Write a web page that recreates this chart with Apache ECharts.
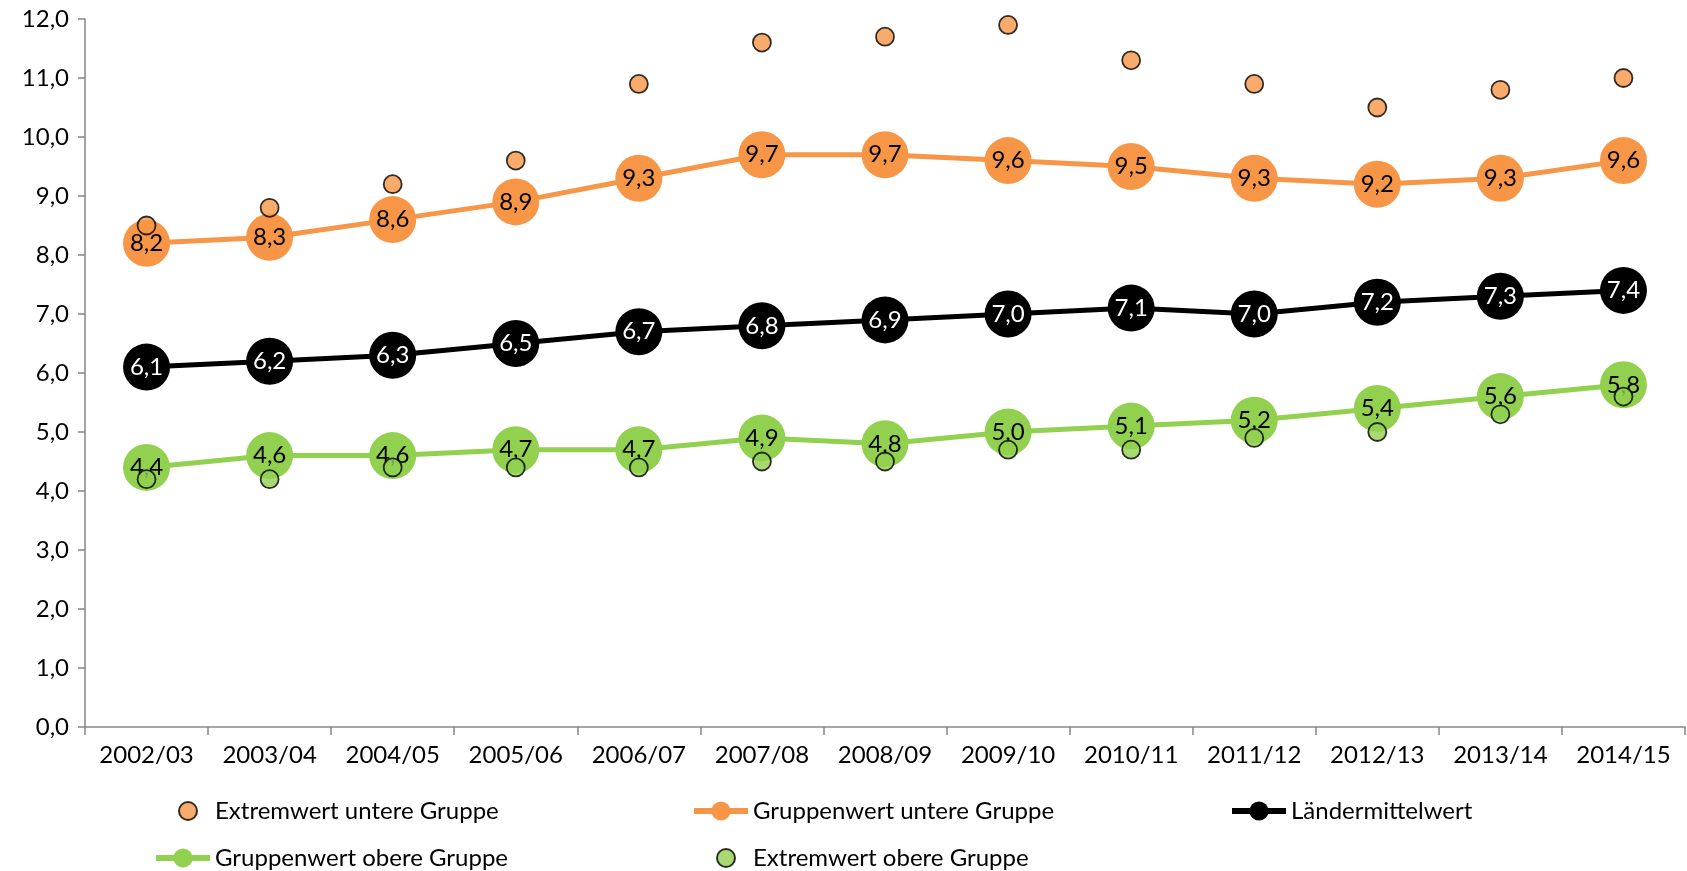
<!DOCTYPE html>
<html>
<head>
<meta charset="utf-8">
<script src="https://cdn.jsdelivr.net/npm/echarts@6/dist/echarts.min.js"></script>
<style>
html,body{margin:0;padding:0;background:#fff;}
#chart{width:1687px;height:871px;}
</style>
</head>
<body>
<div id="chart"></div>
<script>
const categories = ['2002/03','2003/04','2004/05','2005/06','2006/07','2007/08','2008/09','2009/10','2010/11','2011/12','2012/13','2013/14','2014/15'];
const extremUntere = [8.5, 8.8, 9.2, 9.6, 10.9, 11.6, 11.7, 11.9, 11.3, 10.9, 10.5, 10.8, 11.0];
const gruppeUntere = [8.2, 8.3, 8.6, 8.9, 9.3, 9.7, 9.7, 9.6, 9.5, 9.3, 9.2, 9.3, 9.6];
const laendermittel = [6.1, 6.2, 6.3, 6.5, 6.7, 6.8, 6.9, 7.0, 7.1, 7.0, 7.2, 7.3, 7.4];
const gruppeObere = [4.4, 4.6, 4.6, 4.7, 4.7, 4.9, 4.8, 5.0, 5.1, 5.2, 5.4, 5.6, 5.8];
const extremObere = [4.2, 4.2, 4.4, 4.4, 4.4, 4.5, 4.5, 4.7, 4.7, 4.9, 5.0, 5.3, 5.6];
const yMin = 0, yMax = 12, yStep = 1;

const ORANGE = '#F79646', GREEN = '#92D050', BLACK = '#000000';
const FONT = 'Lato';
const fmt = v => Number(v).toFixed(1).replace('.', ',');

const chart = echarts.init(document.getElementById('chart'));

function lineSeries(name, data, color, labelColor) {
  return {
    name, type: 'line', data, z: 2,
    symbol: 'circle', symbolSize: 47, showAllSymbol: true,
    lineStyle: { color, width: 5 },
    itemStyle: { color },
    label: { show: true, position: 'inside', formatter: p => fmt(p.value),
             color: labelColor, fontFamily: FONT, fontSize: 24 },
    emphasis: { disabled: true }
  };
}
function scatterSeries(name, data, color) {
  return {
    name, type: 'scatter', data, z: 5,
    symbol: 'circle', symbolSize: 18,
    itemStyle: { color, borderColor: '#000', borderWidth: 1.8 },
    emphasis: { disabled: true }
  };
}

const legendText = { fontFamily: FONT, fontSize: 24, color: '#000' };
function legend(name, left, top, w, h, isLine) {
  const l = { data: [name], left, top, itemWidth: w, itemHeight: h,
           textStyle: legendText, selectedMode: false, padding: 0 };
  if (isLine) l.lineStyle = { width: 6 };
  return l;
}

chart.setOption({
  animation: false,
  backgroundColor: '#fff',
  grid: { left: 85, right: 2, top: 19, bottom: 144 },
  legend: [
    legend('Extremwert untere Gruppe', 178, 799, 44, 18, false),
    legend('Gruppenwert untere Gruppe', 691, 799, 54, 24, true),
    legend('Ländermittelwert', 1229, 799, 54, 24, true),
    legend('Gruppenwert obere Gruppe', 153, 846, 54, 24, true),
    legend('Extremwert obere Gruppe', 716, 846, 44, 18, false)
  ],
  xAxis: {
    type: 'category', data: categories, boundaryGap: true,
    axisLine: { lineStyle: { color: '#868686', width: 1.5 } },
    axisTick: { show: true, length: 8, lineStyle: { color: '#868686', width: 1.5 } },
    axisLabel: { color: '#000', fontFamily: FONT, fontSize: 24, margin: 16 },
    splitLine: { show: false }
  },
  yAxis: {
    type: 'value', min: yMin, max: yMax, interval: yStep,
    axisLine: { show: true, lineStyle: { color: '#868686', width: 1.5 } },
    axisTick: { show: true, length: 7, lineStyle: { color: '#868686', width: 1.5 } },
    axisLabel: { color: '#000', fontFamily: FONT, fontSize: 24, margin: 16, formatter: v => fmt(v) },
    splitLine: { show: false }
  },
  series: [
    scatterSeries('Extremwert untere Gruppe', extremUntere, ORANGE),
    lineSeries('Gruppenwert untere Gruppe', gruppeUntere, ORANGE, '#000'),
    lineSeries('Ländermittelwert', laendermittel, BLACK, '#fff'),
    lineSeries('Gruppenwert obere Gruppe', gruppeObere, GREEN, '#000'),
    scatterSeries('Extremwert obere Gruppe', extremObere, GREEN)
  ]
});
</script>
</body>
</html>
